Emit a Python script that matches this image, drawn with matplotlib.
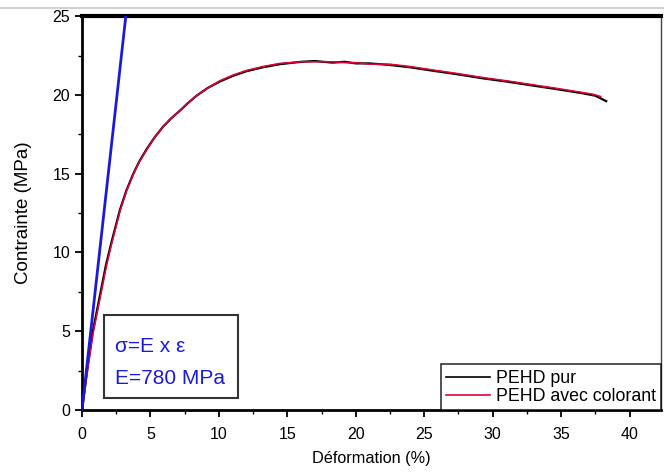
import matplotlib
matplotlib.use("Agg")
import matplotlib.pyplot as plt
from matplotlib.lines import Line2D
from matplotlib.ticker import MultipleLocator

plt.rcParams["font.family"] = ["Liberation Sans", "DejaVu Sans"]

# -- data ---------------------------------------------------------------------
strain_pur = [0, 0.41, 0.77, 1.25, 1.75, 2.14, 2.77, 3.25, 3.75, 4.2, 4.72,
              5.3, 5.94, 6.5, 7.15, 7.7, 8.37, 9.2, 10.07, 11.0, 12.0, 13.2,
              14.45, 16.0, 17.0, 18.3, 19.2, 20.0, 21.0, 22.5, 24.0, 25.9,
              27.5, 29.3, 31.0, 32.9, 34.8, 36.6, 37.5, 38.3]
stress_pur = [0, 2.75, 4.9, 7.0, 9.2, 10.6, 12.7, 13.95, 15.0, 15.8, 16.55,
              17.3, 18.0, 18.5, 19.0, 19.45, 19.95, 20.45, 20.85, 21.2, 21.5,
              21.75, 21.95, 22.1, 22.15, 22.05, 22.1, 22.0, 22.0, 21.9, 21.75,
              21.5, 21.3, 21.05, 20.85, 20.6, 20.35, 20.1, 19.95, 19.6]

strain_col = [0, 0.45, 0.82, 1.3, 1.8, 2.18, 2.8, 3.27, 3.77, 4.22, 4.74,
              5.3, 5.95, 6.5, 7.15, 7.7, 8.37, 9.2, 10.07, 11.0, 12.0, 13.2,
              14.45, 16.0, 17.0, 18.3, 19.2, 20.0, 21.0, 22.5, 24.0, 25.9,
              27.5, 29.3, 31.0, 32.9, 34.8, 36.6, 37.3, 37.9]
stress_col = [0, 2.75, 4.9, 7.0, 9.2, 10.6, 12.7, 13.95, 15.0, 15.8, 16.55,
              17.3, 18.0, 18.5, 19.0, 19.45, 19.95, 20.45, 20.9, 21.25, 21.55,
              21.8, 22.0, 22.1, 22.1, 22.1, 22.05, 22.05, 21.95, 21.95, 21.8,
              21.55, 21.35, 21.1, 20.9, 20.65, 20.4, 20.15, 20.05, 19.9]

# linear elastic fit, E = 780 MPa
fit_strain = [0, 3.2]
fit_stress = [0, 25.0]

labels = ["PEHD pur", "PEHD avec colorant"]
colors = ["black", "#e8003c"]
blue = "#1a1adc"

# -- figure --------------------------------------------------------------------
fig = plt.figure(figsize=(6.64, 4.75), dpi=100)
ax = fig.add_axes([0.1235, 0.137, 0.872, 0.829])

ax.plot(strain_pur, stress_pur, color=colors[0], lw=1.6, zorder=3)
ax.plot(strain_col, stress_col, color=colors[1], lw=1.1, zorder=4)
ax.plot(fit_strain, fit_stress, color=blue, lw=2.0, zorder=5)

ax.set_xlim(0, 42.3)
ax.set_ylim(0, 25)
ax.xaxis.set_major_locator(MultipleLocator(5))
ax.xaxis.set_minor_locator(MultipleLocator(2.5))
ax.yaxis.set_major_locator(MultipleLocator(5))
ax.yaxis.set_minor_locator(MultipleLocator(2.5))
ax.tick_params(which="major", direction="out", length=5, width=1.3,
               labelsize=11.5)
ax.tick_params(which="minor", direction="out", length=3, width=1.0)
ax.tick_params(axis="x", which="major", pad=7)

ax.spines["top"].set_linewidth(3)
ax.spines["left"].set_linewidth(2)
ax.spines["bottom"].set_linewidth(2)
ax.spines["right"].set_linewidth(1)
ax.spines["right"].set_color("#444444")

ax.set_xlabel("Déformation (%)", fontsize=11.7, labelpad=7)
ax.set_ylabel("Contrainte (MPa)", fontsize=13.5, labelpad=15)

# equation box
ax.add_patch(plt.Rectangle((1.6, 0.76), 9.8, 5.27, transform=ax.transData,
                           fill=False, edgecolor="#333333", lw=1.5, zorder=6))
ax.text(2.4, 4.0, "σ=E x ε", color=blue, fontsize=15, va="center", zorder=7)
ax.text(2.4, 2.0, "E=780 MPa", color=blue, fontsize=15, va="center", zorder=7)

handles = [Line2D([], [], color=c, lw=1.2) for c in colors]
leg = ax.legend(handles, labels, loc="lower right", fontsize=12.8,
                frameon=True, fancybox=False, borderaxespad=0,
                handlelength=2.5, handletextpad=0.3, borderpad=0.3,
                labelspacing=0.05, handleheight=0.6)
leg.get_frame().set_edgecolor("black")
leg.get_frame().set_linewidth(1.2)

# grey screenshot line across the top
fig.add_artist(Line2D([0, 1], [0.983, 0.983], color="#c8c8c8", lw=1.2,
                      transform=fig.transFigure))

fig.savefig("out.png", dpi=100)
